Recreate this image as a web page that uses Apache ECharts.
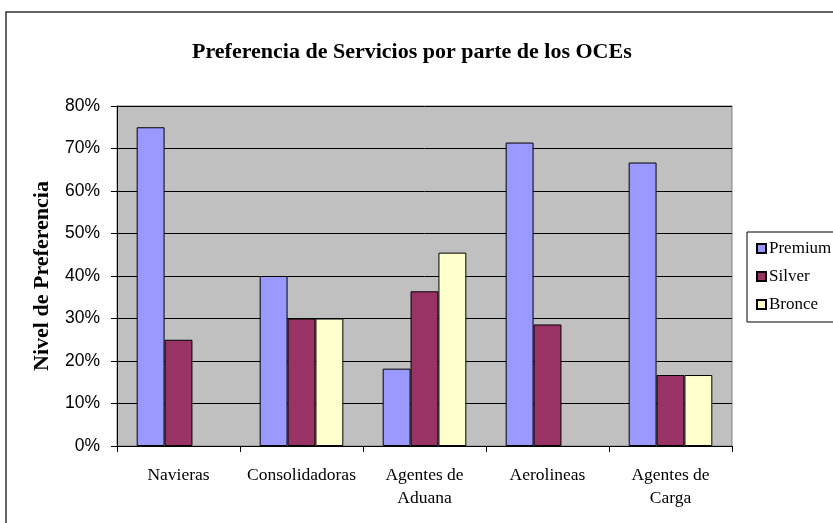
<!DOCTYPE html>
<html>
<head>
<meta charset="utf-8">
<script src="https://cdn.jsdelivr.net/npm/echarts@6/dist/echarts.min.js"></script>
<style>
  html, body { margin: 0; padding: 0; background: #fff; }
  #chart { width: 833px; height: 523px; }
</style>
</head>
<body>
<div id="chart"></div>
<script>
var categories = ['Navieras', 'Consolidadoras', 'Agentes de\nAduana', 'Aerolineas', 'Agentes de\nCarga'];
var premium = [0.75, 0.40, 0.182, 0.714, 0.667];
var silver = [0.25, 0.30, 0.364, 0.286, 0.167];
var bronce = [null, 0.30, 0.455, null, 0.167];
var yTicks = [0, 0.1, 0.2, 0.3, 0.4, 0.5, 0.6, 0.7, 0.8];

var serif = '"Liberation Serif", "Times New Roman", serif';
var sans = '"Liberation Sans", Arial, sans-serif';

function makeBar(name, data, color) {
    return {
        name: name,
        type: 'bar',
        data: data,
        barGap: '0%',
        barCategoryGap: '32%',
        itemStyle: {
            color: color,
            borderColor: '#000',
            borderWidth: 1
        }
    };
}

var myChart = echarts.init(document.getElementById('chart'));

var option = {
    animation: false,
    backgroundColor: '#fff',
    title: {
        text: 'Preferencia de Servicios por parte de los OCEs',
        left: 192,
        top: 41,
        padding: 0,
        textStyle: {
            fontFamily: serif,
            fontWeight: 'bold',
            fontSize: 22,
            color: '#000'
        }
    },
    graphic: [
        {
            type: 'rect',
            shape: { x: 6, y: 12, width: 900, height: 600 },
            style: { fill: null, stroke: '#333', lineWidth: 1.5 },
            z: 100
        }
    ],
    legend: {
        orient: 'vertical',
        left: 747,
        top: 232,
        padding: [8, 30, 9, 9],
        itemGap: 11,
        itemWidth: 9,
        itemHeight: 9,
        icon: 'rect',
        backgroundColor: '#fff',
        borderColor: '#000',
        borderWidth: 1,
        textStyle: {
            fontFamily: serif,
            fontSize: 17,
            lineHeight: 17,
            color: '#000',
            padding: [0, 0, 0, -2]
        },
        data: ['Premium', 'Silver', 'Bronce']
    },
    grid: {
        left: 117,
        right: 101,
        top: 106,
        bottom: 77,
        show: true,
        backgroundColor: '#C0C0C0',
        borderColor: '#808080',
        borderWidth: 1
    },
    xAxis: {
        type: 'category',
        data: categories,
        axisLine: { lineStyle: { color: '#000', width: 1 } },
        axisTick: { show: true, length: 6, lineStyle: { color: '#000' } },
        axisLabel: {
            margin: 18,
            fontFamily: serif,
            fontSize: 17.5,
            lineHeight: 23,
            color: '#000',
            interval: 0
        }
    },
    yAxis: {
        type: 'value',
        min: 0,
        max: 0.8,
        interval: 0.1,
        name: 'Nivel de Preferencia',
        nameLocation: 'middle',
        nameGap: 64,
        nameTextStyle: {
            fontFamily: serif,
            fontWeight: 'bold',
            fontSize: 22,
            color: '#000'
        },
        axisLine: { show: true, lineStyle: { color: '#000', width: 1 } },
        axisTick: { show: true, length: 6, lineStyle: { color: '#000' } },
        splitLine: { show: true, lineStyle: { color: '#000', width: 1 } },
        axisLabel: {
            margin: 17,
            fontFamily: sans,
            fontSize: 17.5,
            color: '#000',
            formatter: function (v) {
                var t = yTicks.find(function (y) { return Math.abs(y - v) < 1e-6; });
                return Math.round((t === undefined ? v : t) * 100) + '%';
            }
        }
    },
    series: [
        makeBar('Premium', premium, '#9999FF'),
        makeBar('Silver', silver, '#993366'),
        makeBar('Bronce', bronce, '#FFFFCC')
    ]
};

myChart.setOption(option);
</script>
</body>
</html>
